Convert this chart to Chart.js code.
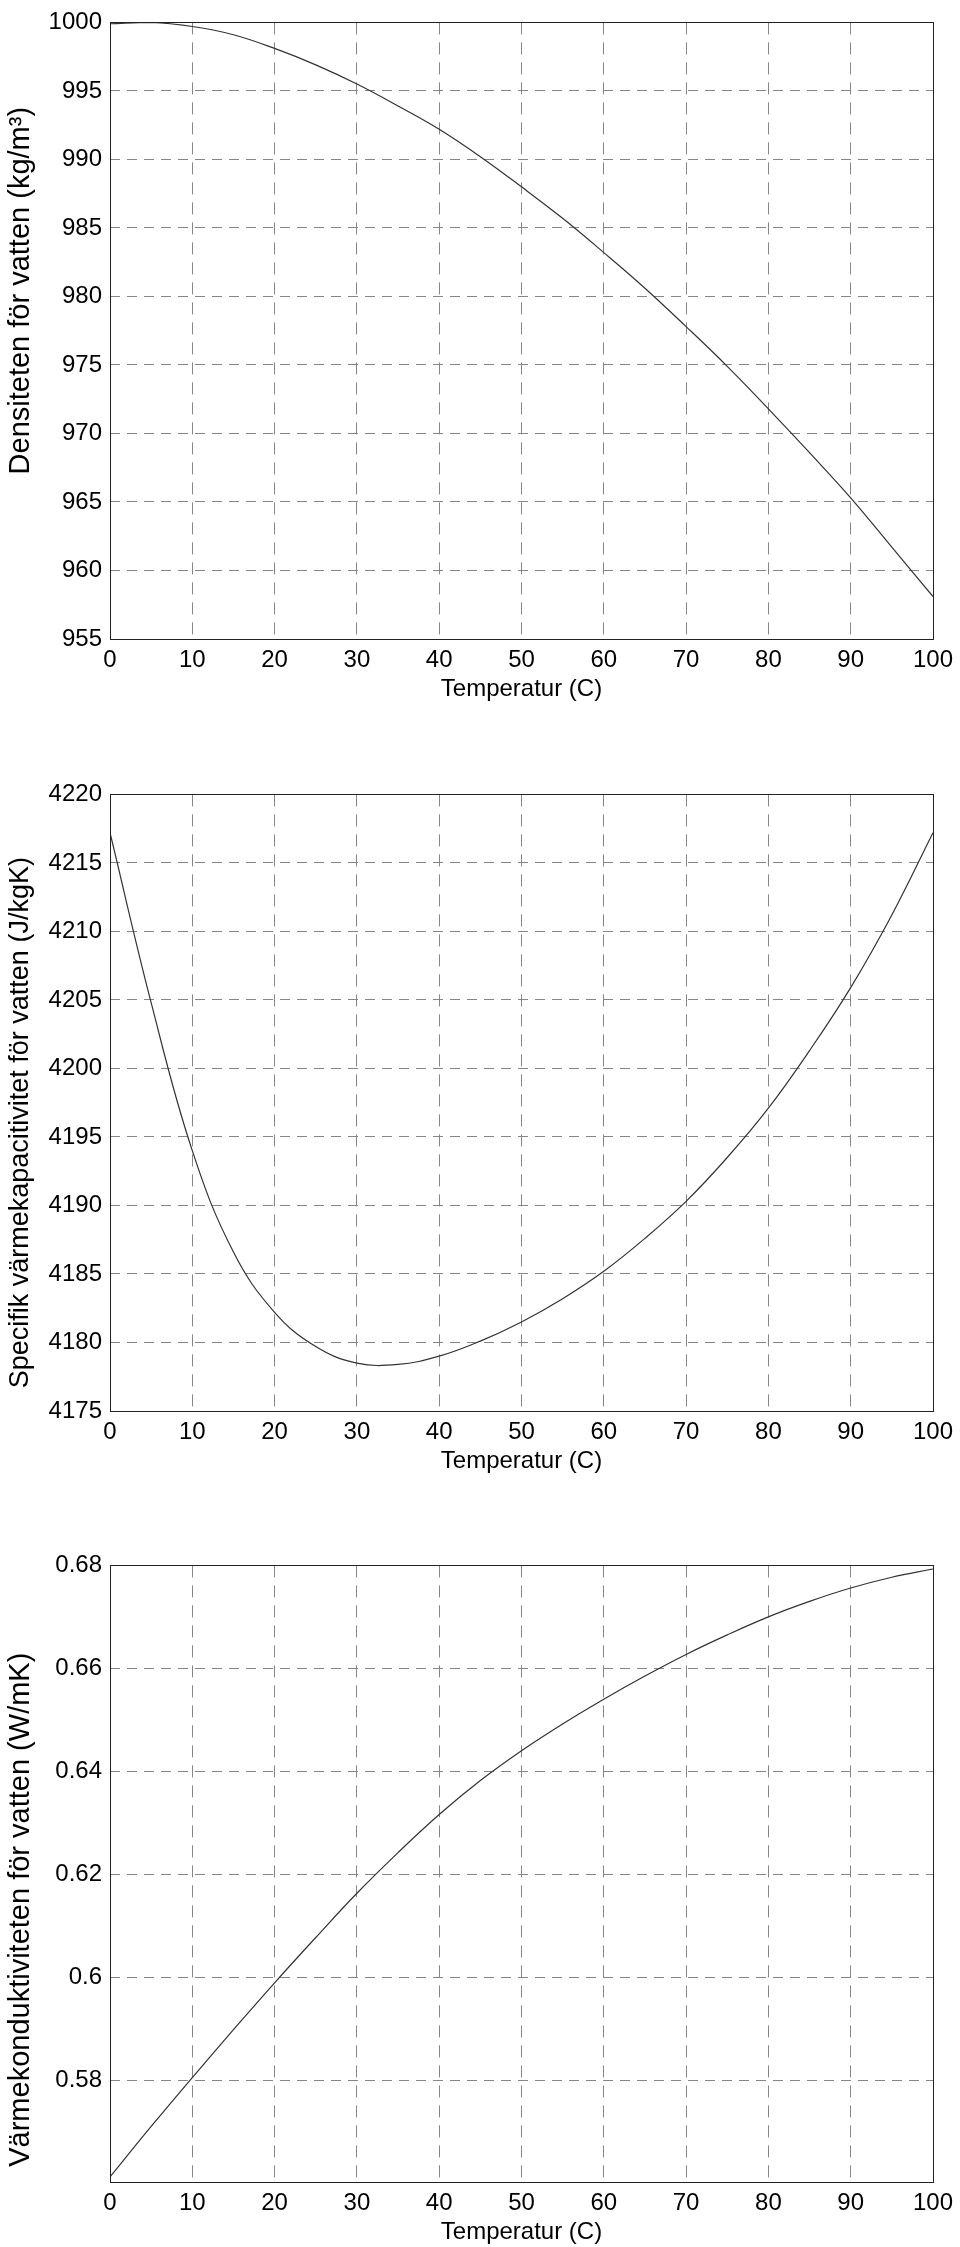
<!DOCTYPE html>
<html lang="sv">
<head>
<meta charset="UTF-8">
<title>Vattnets egenskaper</title>
<script src="https://cdn.jsdelivr.net/npm/chart.js"></script>
<style>
  body { margin: 0; background: #fff; overflow: hidden; }
  .box { position: absolute; left: 0; width: 960px; height: 704px; }
</style>
</head>
<body>
<div class="box" style="top:0px"><canvas id="densitet"></canvas></div>
<div class="box" style="top:772px"><canvas id="varmekap"></canvas></div>
<div class="box" style="top:1543px"><canvas id="konduktivitet"></canvas></div>
<script>
// temperatur (C), avläst var 5:e grad
const temperatur = [0, 5, 10, 15, 20, 25, 30, 35, 40, 45, 50, 55, 60, 65, 70, 75, 80, 85, 90, 95, 100];
const densitet = [999.9, 1000.0, 999.7, 999.1, 998.1, 996.9, 995.5, 993.9, 992.2, 990.2, 988.0,
                  985.7, 983.2, 980.6, 977.8, 974.9, 971.8, 968.6, 965.3, 961.7, 958.1];
const varmekapacitet = [4217.2, 4204.8, 4194.0, 4186.6, 4182.2, 4179.7, 4178.5, 4178.4, 4179.0, 4180.1, 4181.5,
                        4183.2, 4185.2, 4187.6, 4190.3, 4193.5, 4197.1, 4201.3, 4205.9, 4211.2, 4217.2];
const konduktivitet = [0.5612, 0.5710, 0.5805, 0.5898, 0.5989, 0.6077, 0.6163, 0.6242, 0.6316, 0.6382, 0.6440,
                       0.6492, 0.6540, 0.6585, 0.6627, 0.6665, 0.6700, 0.6730, 0.6756, 0.6777, 0.6793];

const xTicks = [0, 10, 20, 30, 40, 50, 60, 70, 80, 90, 100];
const yTicksDensitet = [955, 960, 965, 970, 975, 980, 985, 990, 995, 1000];
const yTicksVarme = [4175, 4180, 4185, 4190, 4195, 4200, 4205, 4210, 4215, 4220];
const yTicksKond = [0.58, 0.6, 0.62, 0.64, 0.66, 0.68];

const FONT = '"Liberation Sans", Arial, Helvetica, sans-serif';
const GRID = '#868686';

// ram runt hela plottytan (matlab-stil)
const ram = {
  id: 'ram',
  afterDraw(chart) {
    const { ctx, chartArea: a } = chart;
    ctx.save();
    ctx.strokeStyle = '#222';
    ctx.lineWidth = 1;
    ctx.strokeRect(Math.round(a.left) + 0.5, Math.round(a.top) + 0.5,
                   Math.round(a.right - a.left), Math.round(a.bottom - a.top));
    ctx.restore();
  }
};

// y-axelns rubrik, roterad, något förskjuten som i originalet
const yTitel = {
  id: 'yTitel',
  afterDraw(chart, args, opts) {
    const { ctx, chartArea: a } = chart;
    ctx.save();
    ctx.translate(21, (a.top + a.bottom) / 2 + opts.shift);
    ctx.rotate(-Math.PI / 2);
    ctx.font = opts.size + 'px ' + FONT;
    ctx.fillStyle = '#000';
    ctx.textAlign = 'center';
    ctx.textBaseline = 'middle';
    ctx.fillText(opts.text, 0, 0);
    ctx.restore();
  }
};

function makeChart(id, values, yMin, yMax, yTicks, title) {
  const ctx = document.getElementById(id).getContext('2d');
  return new Chart(ctx, {
    type: 'line',
    data: {
      datasets: [{
        data: temperatur.map((t, i) => ({ x: t, y: values[i] })),
        borderColor: '#333',
        borderWidth: 1.2,
        pointRadius: 0,
        tension: 0.4,
        fill: false
      }]
    },
    options: {
      responsive: true,
      maintainAspectRatio: false,
      animation: false,
      layout: { padding: { top: 11, right: 25, left: 0, bottom: 0 } },
      plugins: { legend: { display: false }, tooltip: { enabled: false }, yTitel: title },
      scales: {
        x: {
          type: 'linear',
          min: 0,
          max: 100,
          afterBuildTicks: s => { s.ticks = xTicks.map(v => ({ value: v })); },
          afterFit: s => { s.height = 65; },
          grid: {
            color: c => (c.tick && (c.tick.value === 0 || c.tick.value === 100)) ? 'rgba(0,0,0,0)' : GRID,
            lineWidth: 1,
            drawTicks: false
          },
          border: { display: false, dash: [12, 8] },
          ticks: { color: '#000', padding: 7, maxRotation: 0, font: { family: FONT, size: 24 } },
          title: {
            display: true,
            text: 'Temperatur (C)',
            color: '#000',
            padding: { top: 0, bottom: 0 },
            font: { family: FONT, size: 24 }
          }
        },
        y: {
          min: yMin,
          max: yMax,
          afterBuildTicks: s => { s.ticks = yTicks.map(v => ({ value: v })); },
          afterFit: s => { s.width = 110; },
          grid: {
            color: c => (c.tick && (c.tick.value === yMin || c.tick.value === yMax)) ? 'rgba(0,0,0,0)' : GRID,
            lineWidth: 1,
            drawTicks: false
          },
          border: { display: false, dash: [10, 7] },
          ticks: {
            color: '#000',
            padding: 8,
            font: { family: FONT, size: 24 },
            callback: v => String(+v.toFixed(4))
          },
          title: { display: false }
        }
      }
    },
    plugins: [ram, yTitel]
  });
}

makeChart('densitet', densitet, 955, 1000, yTicksDensitet,
  { text: 'Densiteten för vatten (kg/m³)', size: 29, shift: -40 });
makeChart('varmekap', varmekapacitet, 4175, 4220, yTicksVarme,
  { text: 'Specifik värmekapacitivitet för vatten (J/kgK)', size: 27, shift: 20 });
makeChart('konduktivitet', konduktivitet, 0.5602, 0.68, yTicksKond,
  { text: 'Värmekonduktiviteten för vatten (W/mK)', size: 29, shift: 36 });
</script>
</body>
</html>
